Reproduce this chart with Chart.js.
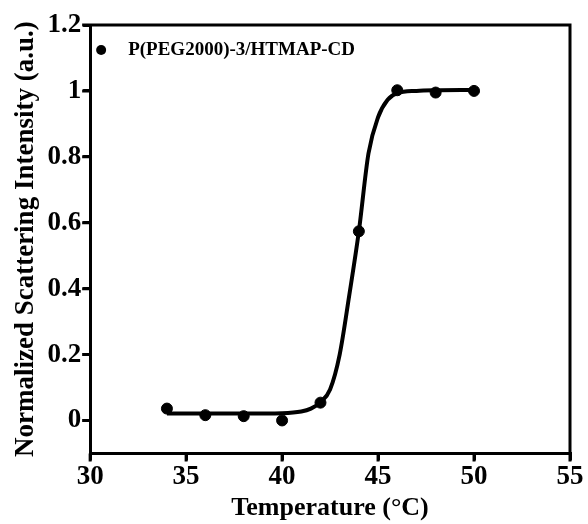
<!DOCTYPE html>
<html>
<head>
<meta charset="utf-8">
<script src="https://cdn.jsdelivr.net/npm/chart.js@4"></script>
<style>
    html, body { margin: 0; padding: 0; background: #fff; }
</style>
</head>
<body>
<canvas id="grafica" width="588" height="524"></canvas>
<script>
// Datos medidos (puntos)
const serieNombre = "P(PEG2000)-3/HTMAP-CD";
const temperaturas = [34, 36, 38, 40, 42, 44, 46, 48, 50];
const intensidades = [0.036, 0.016, 0.013, 0.0, 0.054, 0.574, 1.002, 0.995, 1.0];

// Curva de ajuste
const curvaX = [34, 38, 40, 41, 41.5, 42, 42.5, 43, 43.5, 44, 44.5, 45, 45.5, 46, 47, 48, 50];
const curvaY = [0.021, 0.021, 0.022, 0.027, 0.036, 0.055, 0.094, 0.2, 0.38, 0.574, 0.81, 0.92, 0.973, 0.993, 1.0, 1.002, 1.003];

// Ticks de los ejes
const ticksX = [30, 35, 40, 45, 50, 55];
const ticksY = [0, 0.2, 0.4, 0.6, 0.8, 1, 1.2];

const fuente = "'Liberation Serif', 'Times New Roman', serif";
const largoTick = 8;

// Marco superior y derecho, y marcas de los ticks
const marco = {
    id: "marco",
    afterDraw(chart) {
        const a = chart.chartArea;
        const ctx = chart.ctx;
        ctx.save();
        ctx.strokeStyle = "#000";
        ctx.lineWidth = 3;
        ctx.beginPath();
        ctx.moveTo(a.left - 1.5, a.top);
        ctx.lineTo(a.right, a.top);
        ctx.lineTo(a.right, a.bottom + 1.5);
        // marcas eje x
        ticksX.forEach((v) => {
            const px = chart.scales.x.getPixelForValue(v);
            ctx.moveTo(px, a.bottom);
            ctx.lineTo(px, a.bottom + largoTick);
        });
        // marcas eje y
        ticksY.forEach((v) => {
            const py = chart.scales.y.getPixelForValue(v);
            ctx.moveTo(a.left, py);
            ctx.lineTo(a.left - largoTick, py);
        });
        ctx.stroke();
        ctx.restore();
    },
};

// Leyenda dentro del area
const leyenda = {
    id: "leyenda",
    afterDraw(chart) {
        const a = chart.chartArea;
        const ctx = chart.ctx;
        ctx.save();
        ctx.fillStyle = "#000";
        ctx.beginPath();
        ctx.arc(a.left + 11, a.top + 25, 5, 0, Math.PI * 2);
        ctx.fill();
        ctx.font = "bold 19px " + fuente;
        ctx.textBaseline = "middle";
        ctx.fillText(chart.data.datasets[1].label, a.left + 38, a.top + 25);
        ctx.restore();
    },
};

const canvas = document.getElementById("grafica").getContext("2d");
const chart = new Chart(canvas, {
    type: "scatter",
    data: {
        datasets: [
            {
                label: "Ajuste",
                data: curvaX.map((x, i) => ({ x: x, y: curvaY[i] })),
                showLine: true,
                borderColor: "#000",
                borderWidth: 4,
                pointRadius: 0,
                cubicInterpolationMode: "monotone",
                order: 2,
            },
            {
                label: serieNombre,
                data: temperaturas.map((x, i) => ({ x: x, y: intensidades[i] })),
                backgroundColor: "#000",
                borderColor: "#000",
                pointRadius: 5.5,
                order: 1,
            },
        ],
    },
    options: {
        responsive: false,
        animation: false,
        layout: { padding: { top: 25, right: 18, left: 10, bottom: 0 } },
        plugins: {
            legend: { display: false },
            tooltip: { enabled: false },
        },
        scales: {
            x: {
                type: "linear",
                min: 30,
                max: 55,
                afterBuildTicks: (axis) => {
                    axis.ticks = ticksX.map((v) => ({ value: v }));
                },
                border: { color: "#000", width: 3 },
                grid: {
                    drawOnChartArea: false,
                    color: "#000",
                    lineWidth: 3,
                    tickLength: 7,
                },
                ticks: {
                    color: "#000",
                    font: { family: fuente, size: 27, weight: "bold" },
                    padding: 0,
                    maxRotation: 0,
                    callback: (v) => String(v),
                },
                title: {
                    display: true,
                    text: "Temperature (°C)",
                    color: "#000",
                    font: { family: fuente, size: 26, weight: "bold" },
                    padding: { top: 0, bottom: 0 },
                },
            },
            y: {
                type: "linear",
                min: -0.1,
                max: 1.2,
                afterBuildTicks: (axis) => {
                    axis.ticks = ticksY.map((v) => ({ value: v }));
                },
                border: { color: "#000", width: 3 },
                grid: {
                    drawOnChartArea: false,
                    color: "#000",
                    lineWidth: 3,
                    tickLength: 7,
                },
                ticks: {
                    color: "#000",
                    font: { family: fuente, size: 27, weight: "bold" },
                    padding: 2,
                    callback: (v) => String(v),
                },
                title: {
                    display: true,
                    text: "Normalized Scattering Intensity (a.u.)",
                    color: "#000",
                    font: { family: fuente, size: 27, weight: "bold" },
                    padding: { top: 0, bottom: 3 },
                },
            },
        },
    },
    plugins: [marco, leyenda],
});
</script>
</body>
</html>
